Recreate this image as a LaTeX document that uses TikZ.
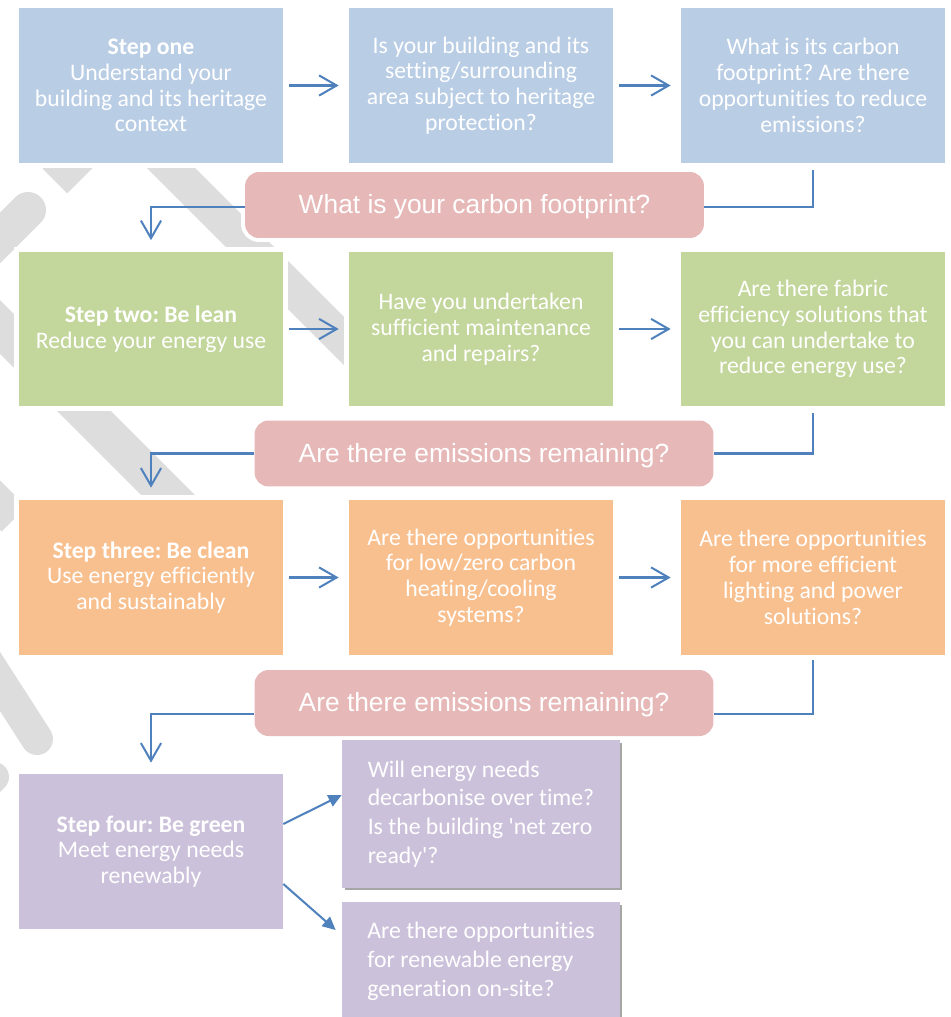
\documentclass[tikz,border=0pt]{standalone}
\usepackage{fontspec}
\newfontfamily\boxfont[RawFeature={-liga;-clig;-calt;-dlig}]{Carlito}
\newfontfamily\askfont{Liberation Sans}
\usetikzlibrary{arrows.meta,shadows}
\definecolor{stepblue}{HTML}{B9CDE5}
\definecolor{stepgreen}{HTML}{C3D69B}
\definecolor{steporange}{HTML}{F9C08F}
\definecolor{steppurple}{HTML}{CCC1DA}
\definecolor{askpink}{HTML}{E6B9B8}
\definecolor{linkblue}{HTML}{4F81BD}
\definecolor{stripegray}{HTML}{DDDDDD}
\frenchspacing
\tikzset{
  stepbox/.style={rectangle,inner sep=0pt,minimum width=5.28cm,minimum height=3.1cm,
    align=center,text=white,font=\boxfont\fontsize{13.5}{14.7}\selectfont,
    preaction={draw=white,line width=0.2cm}},
  askbox/.style={rectangle,rounded corners=0.28cm,inner sep=0pt,minimum width=9.18cm,
    minimum height=1.32cm,fill=askpink,text=white,font=\askfont\fontsize{15}{18}\selectfont,
    text depth=1pt,preaction={draw=white,line width=0.16cm}},
  ideabox/.style={rectangle,inner sep=0pt,minimum width=5.56cm,fill=steppurple,
    align=left,text=white,font=\boxfont\fontsize{13.5}{16.4}\selectfont,
    drop shadow={shadow xshift=0.05cm,shadow yshift=-0.05cm,opacity=0.35,fill=black}},
  stripe/.style={draw=stripegray,line width=#1},
  stripe/.default=0.7cm,
  link/.style={draw=linkblue,line width=1.15pt},
  flow/.style={link,-{Straight Barb[length=10pt,width=11.5pt]}},
  push/.style={link,-{Triangle[length=7.5pt,width=7pt]}},
}

\begin{document}
\begin{tikzpicture}[x=0.02cm,y=-0.02cm]
  \useasboundingbox (0,0) rectangle (950,1017);
  % Hintergrund
  \draw[stripe=0.68cm] (100,97) -- (372,369);
  \draw[stripe=0.76cm] (-100,227) -- (230,557);
  \draw[stripe=0.7cm] (55,181) -- (150,86);
  \draw[stripe=0.72cm,line cap=round] (28,210) -- (-80,318);
  \draw[stripe=0.7cm] (14,519) -- (-100,405);
  \draw[stripe=0.64cm,line cap=round] (37,739) -- (-71,571);
  \draw[stripe=0.6cm,line cap=round] (-6,777) -- (-60,831);

  % Schritt eins
  \node[stepbox,fill=stepblue] (b1) at (151,85.5) {\textbf{Step one}\\Understand your\\building and its heritage\\context};
  \node[stepbox,fill=stepblue] (b2) at (481,85.5) {Is your building and its\\setting/surrounding\\area subject to heritage\\protection?};
  \node[stepbox,fill=stepblue] (b3) at (813,85.5) {What is its carbon\\footprint? Are there\\opportunities to reduce\\emissions?};
  \node[askbox] (p1) at (474.5,205) {What is your carbon footprint?};

  % Schritt zwei
  \node[stepbox,fill=stepgreen] (g1) at (151,329) {\textbf{Step two: Be lean}\\Reduce your energy use};
  \node[stepbox,fill=stepgreen] (g2) at (481,329) {Have you undertaken\\sufficient maintenance\\and repairs?};
  \node[stepbox,fill=stepgreen] (g3) at (813,329) {Are there fabric\\efficiency solutions that\\you can undertake to\\reduce energy use?};
  \node[askbox] (p2) at (484,453.5) {Are there emissions remaining?};

  % Schritt drei
  \node[stepbox,fill=steporange] (o1) at (151,577.5) {\textbf{Step three: Be clean}\\Use energy efficiently\\and sustainably};
  \node[stepbox,fill=steporange] (o2) at (481,577.5) {Are there opportunities\\for low/zero carbon\\heating/cooling\\systems?};
  \node[stepbox,fill=steporange] (o3) at (813,577.5) {Are there opportunities\\for more efficient\\lighting and power\\solutions?};
  \node[askbox] (p3) at (484,703) {Are there emissions remaining?};

  % Schritt vier
  \node[stepbox,fill=steppurple] (v1) at (151,851.5) {\textbf{Step four: Be green}\\Meet energy needs\\renewably};
  \node[ideabox,minimum height=2.96cm] (q1) at (481,814) {Will energy needs\\decarbonise over time?\\Is the building \textquotesingle net zero\\ready\textquotesingle?};
  \node[ideabox,minimum height=2.36cm] (q2) at (481,961) {Are there opportunities\\for renewable energy\\generation on-site?};

  % Pfeile
  \draw[flow,shorten <=0.12cm,shorten >=0.2cm] (b1) -- (b2);
  \draw[flow,shorten <=0.12cm,shorten >=0.2cm] (b2) -- (b3);
  \draw[flow,shorten <=0.12cm,shorten >=0.2cm] (g1) -- (g2);
  \draw[flow,shorten <=0.12cm,shorten >=0.2cm] (g2) -- (g3);
  \draw[flow,shorten <=0.12cm,shorten >=0.2cm] (o1) -- (o2);
  \draw[flow,shorten <=0.12cm,shorten >=0.2cm] (o2) -- (o3);

  \draw[link,shorten <=0.14cm] (b3.south) |- ([yshift=-0.04cm]p1.east);
  \draw[flow,shorten >=0.22cm] ([yshift=-0.04cm]p1.west) -| (g1.north);
  \draw[link,shorten <=0.12cm] (g3.south) |- (p2.east);
  \draw[flow,shorten >=0.24cm] (p2.west) -| (o1.north);
  \draw[link,shorten <=0.1cm] (o3.south) |- ([yshift=-0.22cm]p3.east);
  \draw[flow,shorten >=0.22cm] ([yshift=-0.22cm]p3.west) -| (v1.north);

  \draw[push] ([yshift=0.55cm]v1.east) -- ([yshift=0.38cm]q1.west);
  \draw[push] ([yshift=-0.65cm]v1.east) -- ([xshift=-0.12cm,yshift=0.62cm]q2.west);
\end{tikzpicture}
\end{document}
